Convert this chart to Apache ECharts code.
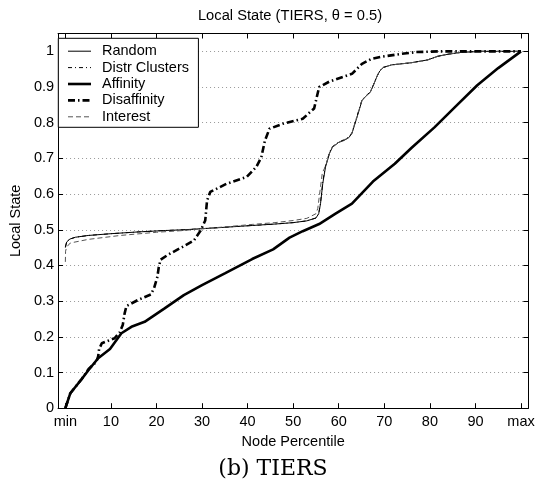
<!DOCTYPE html>
<html>
<head>
<meta charset="utf-8">
<script src="https://cdn.jsdelivr.net/npm/echarts@6/dist/echarts.min.js"></script>
<style>
html,body{margin:0;padding:0;background:#fff;}
#chart{width:546px;height:479px;}
</style>
</head>
<body>
<div id="chart"></div>
<script>
// ---- data (x = node percentile, y = local state) ----
var seriesNames = ['Random', 'Distr Clusters', 'Affinity', 'Disaffinity', 'Interest'];
var xTickValues = [0, 10, 20, 30, 40, 50, 60, 70, 80, 90, 100];
var xTickLabels = ['min', '10', '20', '30', '40', '50', '60', '70', '80', '90', 'max'];
var yTickValues = [0, 0.1, 0.2, 0.3, 0.4, 0.5, 0.6, 0.7, 0.8, 0.9, 1];
var yTickLabels = ['0', '0.1', '0.2', '0.3', '0.4', '0.5', '0.6', '0.7', '0.8', '0.9', '1'];

var randomData = [[0,0.45],[0.3,0.466],[1,0.474],[2.2,0.479],[5,0.484],[10,0.489],[16,0.494],[22,0.498],[26,0.5],[30,0.503],[35,0.507],[41,0.512],[46,0.516],[50,0.52],[53,0.525],[55,0.533],[55.6,0.545],[56,0.573],[56.5,0.63],[57.1,0.676],[58,0.715],[58.6,0.731],[60,0.745],[61.1,0.75],[62.2,0.758],[62.9,0.77],[63.5,0.795],[64,0.815],[65.1,0.862],[66,0.875],[66.9,0.885],[67.6,0.905],[68.3,0.927],[69,0.945],[69.8,0.955],[71.6,0.962],[75.9,0.968],[79.5,0.976],[81.7,0.986],[84,0.992],[86.8,0.997],[91,1.0],[100,1.0]];
var distrClustersData = [[0,0.452],[0.3,0.467],[1,0.474],[2.2,0.479],[5,0.484],[10,0.489],[16,0.494],[22,0.498],[26,0.5],[30,0.503],[35,0.507],[41,0.512],[46,0.516],[50,0.52],[53,0.525],[55,0.533],[55.6,0.545],[56,0.575],[56.5,0.635],[57.1,0.68],[58,0.718],[58.6,0.733],[60,0.746],[61.1,0.752],[62.2,0.76],[62.9,0.772],[63.5,0.797],[64,0.818],[65.1,0.864],[66,0.876],[66.9,0.886],[67.6,0.906],[68.3,0.928],[69,0.946],[69.8,0.955],[71.6,0.962],[75.9,0.968],[79.5,0.976],[81.7,0.986],[84,0.992],[86.8,0.997],[91,1.0],[100,1.0]];
var affinityData = [[0,0],[1.1,0.042],[3.6,0.082],[5.1,0.107],[7.2,0.14],[9.8,0.166],[12.3,0.21],[14.5,0.228],[17.4,0.242],[21.7,0.279],[26,0.317],[30,0.345],[35,0.378],[41,0.418],[45.6,0.445],[49.2,0.478],[52.1,0.496],[55.7,0.516],[59.3,0.545],[62.9,0.573],[67.5,0.635],[72.3,0.685],[76,0.73],[81,0.787],[86,0.85],[90.4,0.905],[95,0.953],[100,1.0]];
var disaffinityData = [[0,0],[1.1,0.042],[3.6,0.082],[5.1,0.11],[6.8,0.13],[7.2,0.145],[7.4,0.165],[8,0.182],[10.8,0.196],[11.9,0.212],[12.6,0.233],[13,0.265],[13.4,0.286],[15.9,0.303],[18.8,0.319],[19.5,0.338],[20.2,0.368],[20.5,0.395],[20.9,0.416],[22.4,0.429],[25.7,0.452],[28.2,0.47],[29.7,0.498],[30.7,0.526],[31.1,0.582],[31.8,0.606],[35.4,0.629],[39.8,0.648],[41.9,0.676],[43,0.703],[43.8,0.75],[44.8,0.783],[47.7,0.797],[52.1,0.811],[54.6,0.84],[55.7,0.9],[57.9,0.915],[62.9,0.937],[65.1,0.965],[67.2,0.979],[69.4,0.985],[73.8,0.993],[77,0.998],[82,1.0],[100,1.0]];
var interestData = [[0,0.41],[0.05,0.44],[0.3,0.452],[1.1,0.463],[5,0.473],[12,0.484],[20,0.493],[26,0.498],[30,0.503],[35,0.508],[41,0.515],[46,0.52],[50,0.526],[53,0.532],[55,0.545],[55.4,0.56],[55.8,0.6],[56.4,0.66],[57.1,0.678],[58,0.716],[58.6,0.732],[60,0.745],[61.1,0.751],[62.2,0.759],[62.9,0.771],[63.5,0.796],[64,0.816],[65.1,0.863],[66,0.875],[66.9,0.885],[67.6,0.905],[68.3,0.927],[69,0.945],[69.8,0.955],[71.6,0.962],[75.9,0.968],[79.5,0.976],[81.7,0.986],[84,0.992],[86.8,0.997],[91,1.0],[100,1.0]];

var FONT = 'Liberation Sans';
var FS = 14.5;
var chart = echarts.init(document.getElementById('chart'), null, {renderer: 'canvas'});

function fmtX(v) { var i = xTickValues.indexOf(v); return i >= 0 ? xTickLabels[i] : ''; }
function fmtY(v) {
  for (var i = 0; i < yTickValues.length; i++) { if (Math.abs(yTickValues[i] - v) < 1e-9) return yTickLabels[i]; }
  return '';
}

var baseAxisLine = {show: true, onZero: false, lineStyle: {color: '#000', width: 1}};

var option = {
  animation: false,
  backgroundColor: '#fff',
  grid: {left: 52.7, right: 17.7, top: 33.5, bottom: 70.8, show: false},
  graphic: [
    {type: 'text', x: 290, y: 16, style: {text: 'Local State (TIERS, \u03b8 = 0.5)', font: '14.7px "Liberation Sans"', fill: '#000', textAlign: 'center', textVerticalAlign: 'middle'}},
    {type: 'text', x: 273, y: 469, style: {text: '(b) TIERS', font: '22px "DejaVu Serif"', fill: '#000', textAlign: 'center', textVerticalAlign: 'middle'}}
  ],
  legend: {
    orient: 'vertical', left: 58.3, top: 38.3,
    padding: [5.4, 9.4, 3, 8.4],
    itemWidth: 23, itemHeight: 14, itemGap: 1.4,
    backgroundColor: '#fff', borderColor: '#000', borderWidth: 1, borderRadius: 0,
    selectedMode: false,
    itemStyle: {color: 'rgba(0,0,0,0)', borderWidth: 0, opacity: 0},
    lineStyle: {width: 'inherit', type: 'inherit', color: 'inherit'},
    textStyle: {fontFamily: FONT, fontSize: FS, color: '#000', padding: [0, 0, 0, 6]},
    data: seriesNames
  },
  xAxis: [
    {
      type: 'value', min: -1.6, max: 101.6, position: 'bottom',
      axisLine: baseAxisLine,
      axisTick: {show: true, inside: true, length: 5, customValues: xTickValues, lineStyle: {color: '#000'}},
      axisLabel: {show: true, customValues: xTickValues, formatter: fmtX, color: '#000', fontFamily: FONT, fontSize: FS, margin: 6},
      splitLine: {show: false},
      name: 'Node Percentile', nameLocation: 'middle', nameGap: 22,
      nameTextStyle: {fontFamily: FONT, fontSize: FS, color: '#000'}
    },
    {
      type: 'value', min: -1.6, max: 101.6, position: 'top',
      axisLine: baseAxisLine,
      axisTick: {show: true, inside: true, length: 5, customValues: xTickValues, lineStyle: {color: '#000'}},
      axisLabel: {show: false},
      splitLine: {show: false}
    }
  ],
  yAxis: [
    {
      type: 'value', min: 0, max: 1.05, interval: 0.1, position: 'left',
      axisLine: baseAxisLine,
      axisTick: {show: true, inside: true, length: 5, customValues: yTickValues, lineStyle: {color: '#000'}},
      axisLabel: {show: true, customValues: yTickValues, formatter: fmtY, color: '#000', fontFamily: FONT, fontSize: FS, margin: 4},
      splitLine: {show: true, lineStyle: {color: '#999', width: 1, type: [1, 3]}},
      name: 'Local State', nameLocation: 'middle', nameGap: 24,
      nameTextStyle: {fontFamily: FONT, fontSize: FS, color: '#000'}
    },
    {
      type: 'value', min: 0, max: 1.05, position: 'right',
      axisLine: baseAxisLine,
      axisTick: {show: true, inside: true, length: 5, customValues: yTickValues, lineStyle: {color: '#000'}},
      axisLabel: {show: false},
      splitLine: {show: false}
    }
  ],
  series: [
    {name: 'Random', type: 'line', data: randomData, symbol: 'none', showSymbol: false, z: 3,
     lineStyle: {color: '#000', width: 1, type: 'solid'}, itemStyle: {color: '#000'}},
    {name: 'Distr Clusters', type: 'line', data: distrClustersData, symbol: 'none', showSymbol: false, z: 3,
     lineStyle: {color: '#000', width: 1, type: [4, 3, 1, 3]}, itemStyle: {color: '#000'}},
    {name: 'Affinity', type: 'line', data: affinityData, symbol: 'none', showSymbol: false, z: 4,
     lineStyle: {color: '#000', width: 2.6, type: 'solid'}, itemStyle: {color: '#000'}},
    {name: 'Disaffinity', type: 'line', data: disaffinityData, symbol: 'none', showSymbol: false, z: 4,
     lineStyle: {color: '#000', width: 2.6, type: [7, 3, 1.5, 3]}, itemStyle: {color: '#000'}},
    {name: 'Interest', type: 'line', data: interestData, symbol: 'none', showSymbol: false, z: 3,
     lineStyle: {color: '#555', width: 1, type: [5, 3]}, itemStyle: {color: '#555'}}
  ]
};
chart.setOption(option);
</script>
</body>
</html>
